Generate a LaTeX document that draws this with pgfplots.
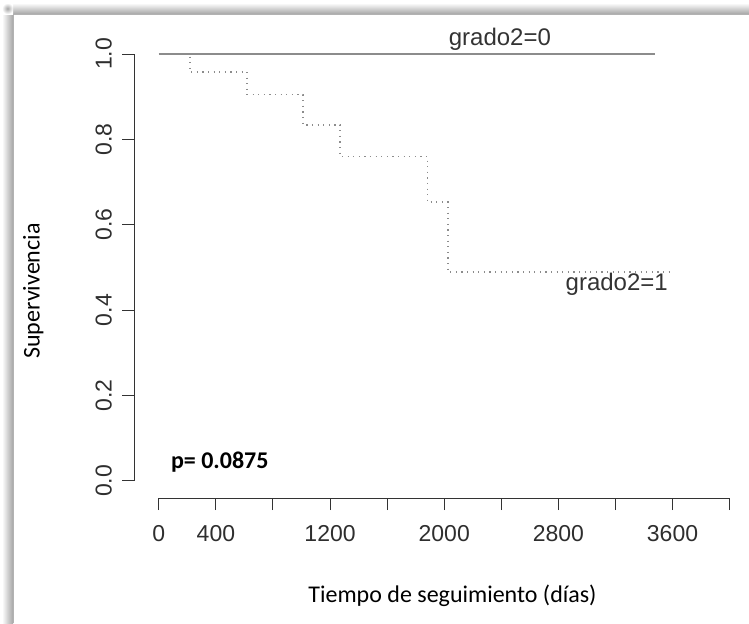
\documentclass[border=0pt]{standalone}
\usepackage{pgfplots}
\pgfplotsset{compat=1.18}
\usepackage{fontspec}
\setmainfont{Liberation Sans}
\newfontfamily\carlito{Carlito}

\definecolor{curvegray}{HTML}{8C8C8C}
\definecolor{axisgray}{HTML}{333333}

\begin{document}
\begin{tikzpicture}[x=0.5pt,y=-0.5pt]
\useasboundingbox (0,0) rectangle (749,623);
% screenshot frame with its shadow
\fill[left color=white, right color=black!35] (2,14) rectangle (13,623);
\fill[top color=white, bottom color=black!35] (13,3) rectangle (749,14);
\fill[inner color=black!35, outer color=white] (2,3) rectangle (13,14);
\draw[black!30, line width=0.5pt] (13,623) -- (13,14) -- (749,14);

\begin{axis}[
at={(67pt,-249pt)}, anchor=south west,
scale only axis, width=297.8pt, height=222pt,
xmin=-174, xmax=4000, ymin=-0.04, ymax=1,
clip=false,
axis x line=bottom, axis y line=left,
axis line style={draw=none},
tick align=outside, major tick length=6pt,
tick style={axisgray, line width=0.5pt},
xtick={0,400,...,4000},
xticklabels={0,400,,1200,,2000,,2800,,3600,},
ytick={0,0.2,...,1},
yticklabels={0.0,0.2,0.4,0.6,0.8,1.0},
/pgf/number format/assume math mode=true,
ticklabel style={font=\fontsize{11.5}{13}\selectfont, text=black!82},
xticklabel shift=4pt,
yticklabel shift=1.6pt,
yticklabel style={rotate=90, anchor=south},
]
% axis lines, R style, detached from the corner
\draw[axisgray, line width=0.5pt] (axis cs:0,-0.04) -- (axis cs:4000,-0.04);
\draw[axisgray, line width=0.5pt] (axis cs:-174,0) -- (axis cs:-174,1);

% grado2=0
\addplot[curvegray, line width=1pt, const plot] coordinates {(0,1) (3475,1)};
% grado2=1
\addplot[curvegray, line width=0.9pt, const plot, dash pattern=on 0.6pt off 2.2pt] coordinates {
(0,1) (217,0.958) (619,0.905) (1011,0.834) (1271,0.760) (1883,0.653) (2028,0.489) (3578,0.489)};

\node[font=\fontsize{12}{14}\selectfont, text=black!80] at (axis cs:2390,1.034) {grado2=0};
\node[font=\fontsize{12}{14}\selectfont, text=black!80] at (axis cs:3209,0.46) {grado2=1};
\node[font=\carlito\bfseries\fontsize{12}{14}\selectfont] at (axis cs:427,0.043) {p= 0.0875};
\end{axis}

\node[font=\carlito\fontsize{12}{14}\selectfont] at (452.5,596) {Tiempo de seguimiento (días)};
\node[font=\carlito\fontsize{12}{14}\selectfont, rotate=90] at (33.4,291) {Supervivencia};
\end{tikzpicture}
\end{document}
